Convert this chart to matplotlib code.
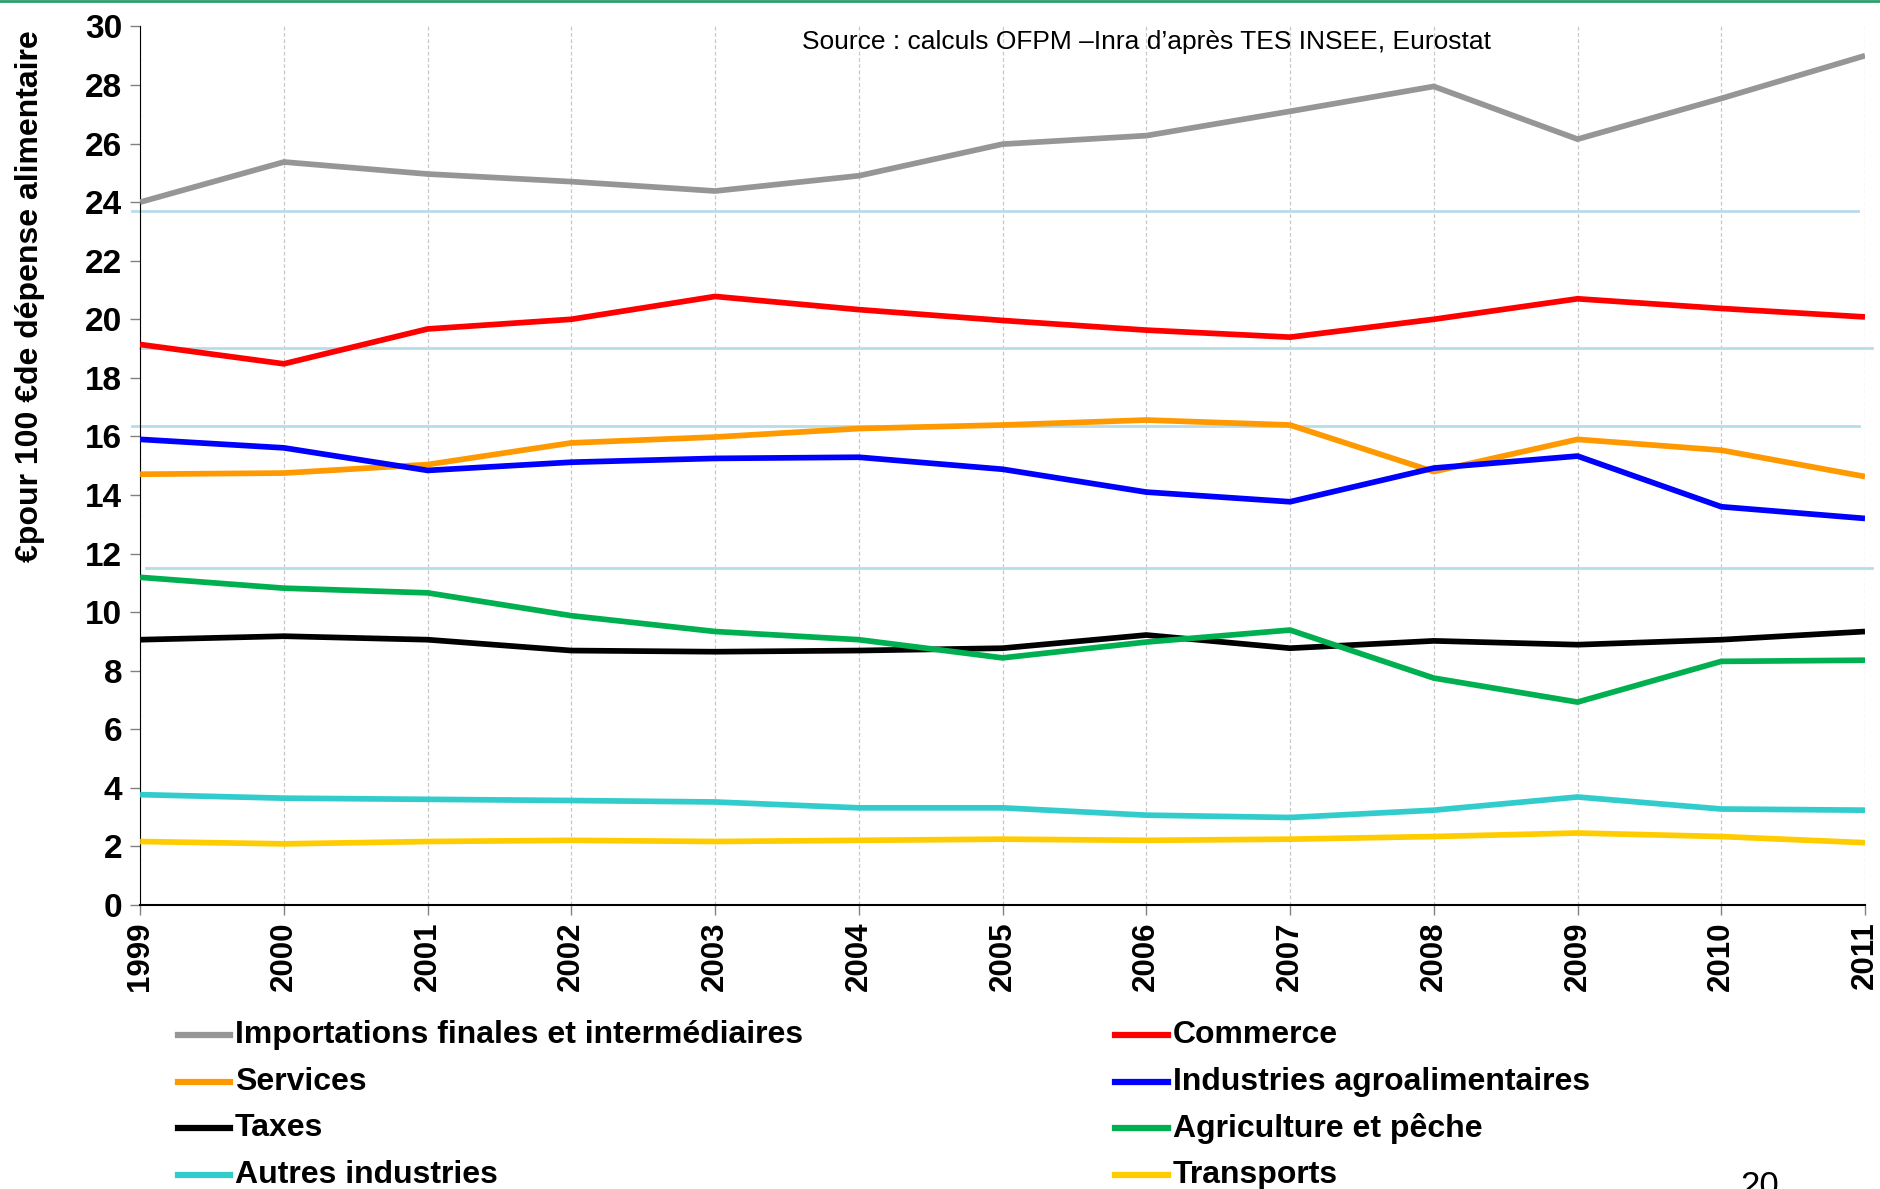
import matplotlib
matplotlib.use("Agg")
import matplotlib.pyplot as plt
from matplotlib.lines import Line2D

plt.rcParams["font.family"] = ["Liberation Sans", "DejaVu Sans"]

years = list(range(1999, 2012))

importations = [24.0, 25.37, 24.96, 24.7, 24.38, 24.9, 25.98, 26.27, 27.1, 27.95, 26.15, 27.54, 29.0]
commerce = [19.14, 18.48, 19.67, 20.0, 20.78, 20.33, 19.96, 19.63, 19.39, 20.0, 20.7, 20.37, 20.08]
services = [14.71, 14.75, 15.04, 15.78, 15.98, 16.27, 16.39, 16.56, 16.39, 14.8, 15.9, 15.53, 14.63]
industries = [15.9, 15.61, 14.84, 15.12, 15.25, 15.29, 14.88, 14.1, 13.77, 14.92, 15.33, 13.6, 13.2]
taxes = [9.06, 9.18, 9.06, 8.69, 8.65, 8.69, 8.77, 9.22, 8.77, 9.02, 8.89, 9.06, 9.34]
agriculture = [11.19, 10.82, 10.66, 9.88, 9.34, 9.06, 8.44, 8.98, 9.39, 7.75, 6.93, 8.32, 8.36]
autres = [3.77, 3.65, 3.61, 3.57, 3.52, 3.32, 3.32, 3.07, 2.99, 3.24, 3.69, 3.28, 3.24]
transports = [2.17, 2.09, 2.17, 2.21, 2.17, 2.21, 2.25, 2.21, 2.25, 2.34, 2.46, 2.34, 2.13]

labels = ["Importations finales et intermédiaires", "Commerce", "Services",
          "Industries agroalimentaires", "Taxes", "Agriculture et pêche",
          "Autres industries", "Transports"]
series = [importations, commerce, services, industries, taxes, agriculture, autres, transports]
colors = ["#969696", "#ff0000", "#ff9900", "#0000ff", "#000000", "#00b050", "#33cccc", "#ffcc00"]

# stray light-blue horizontal rules visible in the source slide
rules = [23.69, 19.02, 16.35, 11.52]
rule_span = [(-0.005, 0.996), (0.0, 1.004), (-0.005, 0.9965), (0.0035, 1.004)]

fig = plt.figure(figsize=(18.81, 11.89), dpi=100)
ax = fig.add_axes([0.0745, 0.2388, 0.917, 0.739])

for yr in years:
    ax.axvline(yr, color="#c8c8c8", lw=0.9, ls=(0, (3, 2)), zorder=0)
for r, (a, b) in zip(rules, rule_span):
    ax.axhline(r, color="#b7dde8", lw=2.0, zorder=1, xmin=a, xmax=b, clip_on=False)

for vals, col in zip(series, colors):
    ax.plot(years, vals, color=col, lw=4.1, solid_capstyle="butt", zorder=3)

ax.set_xlim(1999, 2011)
ax.set_ylim(0, 30)
ax.set_yticks(range(0, 31, 2))
ax.set_xticks(years)
ax.set_xticklabels([str(y) for y in years], rotation=90, fontsize=22.5, fontweight="bold")
ax.tick_params(axis="y", labelsize=24, width=1, length=7, color="#808080", pad=6)
ax.tick_params(axis="x", width=1, length=7, color="#808080", pad=5)
for lab in ax.get_yticklabels():
    lab.set_fontweight("bold")
for s in ["top", "right"]:
    ax.spines[s].set_visible(False)
ax.spines["left"].set_color("#000000")
ax.spines["bottom"].set_color("#000000")
ax.spines["bottom"].set_linewidth(1.5)

ax.set_ylabel("€pour 100 €de dépense alimentaire", fontsize=23, fontweight="bold")
ax.yaxis.set_label_coords(-0.055, 0.693)

fig.text(0.4265, 0.9647, "Source : calculs OFPM \u2013Inra d\u2019après TES INSEE, Eurostat",
         fontsize=19, va="center", ha="left")

# legend drawn by hand in two columns
col_x = [0.0944, 0.593]
row_y = [0.1295, 0.090, 0.0513, 0.0118]
for i, (lab, col) in enumerate(zip(labels, colors)):
    cx = col_x[i % 2]
    cy = row_y[i // 2]
    fig.add_artist(Line2D([cx, cx + 0.0278], [cy, cy], color=col, lw=4.5,
                          transform=fig.transFigure))
    fig.text(cx + 0.0305, cy, lab, fontsize=23, fontweight="bold", va="center", ha="left")

fig.text(0.9357, 0.016, "20", fontsize=25, va="top", ha="center")

# thin green rule at the very top of the slide
fig.add_artist(Line2D([0, 1], [0.9995, 0.9995], color="#2e9e6e", lw=2,
                      transform=fig.transFigure))

fig.savefig("out.png", dpi=100)
